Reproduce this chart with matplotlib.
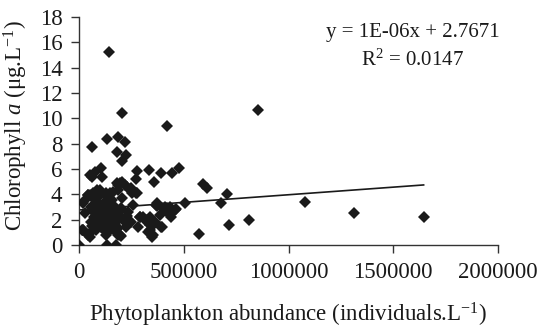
import matplotlib
matplotlib.use("Agg")
import matplotlib.pyplot as plt
import numpy as np

# ------------- Data (abundance in individuals.L-1, chl a in ug.L-1) ------------
abundance_k = [
    145, 204, 418, 856, 1079, 1314, 1645, 813, 718, 705, 676, 593, 612, 573,
    504, 463, 439, 479, 442, 60, 135, 188, 220, 180, 224, 204, 105, 76, 52,
    278, 334, 390, 60, 108, 270, 358, 204, 188, 227, 180, 275, 251, 84, 100,
    52, 44, 132, 148, 29, 21, 371, 371, 402, 418, 434, 291, 307, 323, 339,
    355, 395, 283, 339, 347, 199, 188, 52, 44, 21, 13, 0, 132, 178,
    # dense cluster
    43, 67, 99, 130, 162, 186, 218, 194, 250, 273, 258, 59, 27, 75, 106,
    138, 170, 202, 234, 91, 130, 170, 210, 59, 106, 147, 186, 226, 83, 19,
    250, 290, 314, 337, 361, 393, 329, 353, 385, 425, 457, 369, 409, 130,
    194, 51, 154, 115, 186, 76, 119, 158, 205, 100, 162, 62, 196, 229,
    70, 90, 110, 125, 140, 155, 165, 175, 120, 145, 95, 80, 130, 150,
    100, 115, 135, 160, 180, 85, 125, 140, 110, 95, 150, 65, 120, 170,
]
chlorophyll = [
    15.2, 10.4, 9.4, 10.65, 3.37, 2.50, 2.23, 1.95, 1.58, 4.0, 3.29, 4.85, 4.47, 0.87,
    3.29, 2.82, 2.2, 6.1, 5.7, 7.76, 8.34, 8.5, 8.16, 7.37, 7.1, 6.63, 6.1, 5.74, 5.55,
    5.84, 5.94, 5.71, 5.4, 5.34, 5.19, 5.0, 5.0, 4.74, 4.6, 4.92, 4.08, 4.08, 4.34, 4.34,
    3.95, 3.95, 3.81, 4.13, 3.55, 3.29, 3.29, 3.1, 2.9, 2.9, 3.02, 2.24, 2.23, 1.97, 2.23,
    1.58, 1.45, 1.45, 1.18, 0.66, 0.71, 0.79, 0.61, 0.79, 1.18, 1.18, 0.0, 0.0, 0.0,
    # dense cluster
    3.95, 4.08, 3.95, 4.08, 4.2, 4.34, 4.73, 4.87, 4.47, 4.08, 3.16, 3.02, 2.5, 2.5, 2.76,
    3.02, 2.76, 2.9, 2.63, 1.97, 2.1, 2.1, 1.97, 1.84, 1.44, 1.44, 1.32, 1.44, 1.18, 1.18,
    1.84, 2.23, 1.97, 1.58, 1.84, 1.44, 1.05, 0.79, 2.37, 2.5, 2.76, 3.16, 3.02, 0.79,
    0.79, 0.92, 2.5, 2.37, 2.5, 3.55, 3.3, 3.55, 3.7, 1.8, 1.65, 1.5, 2.3, 2.3,
    2.2, 2.6, 1.9, 2.8, 2.3, 1.8, 3.1, 2.4, 1.2, 1.1, 1.6, 2.9, 3.4, 3.0,
    3.2, 2.9, 1.7, 1.3, 1.9, 1.4, 2.0, 2.6, 2.2, 2.0, 2.1, 2.7, 3.1, 1.6,
]
abundance = np.array(abundance_k) * 1000.0
chlorophyll = np.array(chlorophyll)

# trend line as drawn in the reference
trend_slope = 1.2e-6
trend_intercept = 2.7671
trend_label = "y = 1E-06x + 2.7671"
r2_label = "R$^2$ = 0.0147"

xticks = [0, 500000, 1000000, 1500000, 2000000]
yticks = list(range(0, 19, 2))

# ------------- Style ------------
plt.rcParams['font.family'] = ['Liberation Serif', 'DejaVu Serif']
plt.rcParams['mathtext.fontset'] = 'custom'
plt.rcParams['mathtext.rm'] = 'Liberation Serif'
plt.rcParams['mathtext.it'] = 'Liberation Serif:italic'

fig = plt.figure(figsize=(5.37, 3.28), dpi=100)
ax = fig.add_axes([79 / 537, 83 / 328, 419 / 537, 228 / 328])

ax.plot(abundance, chlorophyll, 'D', color='#1a1a1a', markersize=6.0,
        markeredgewidth=0, zorder=3)

trend_x = np.array([0, abundance.max()])
ax.plot(trend_x, trend_slope * trend_x + trend_intercept, color='#1a1a1a',
        linewidth=1.2, zorder=2)

ax.set_xlim(0, 2000000)
ax.set_ylim(0, 18)
ax.set_xticks(xticks)
ax.set_xticklabels([str(t) for t in xticks])
ax.set_yticks(yticks)

for side in ['top', 'right']:
    ax.spines[side].set_visible(False)
for side in ['left', 'bottom']:
    ax.spines[side].set_linewidth(1.0)
    ax.spines[side].set_color('#333333')

ax.tick_params(direction='out', length=6, width=1.0, color='#333333',
               labelsize=16.5, labelcolor='#1a1a1a')
ax.tick_params(axis='y', pad=6)
ax.tick_params(axis='x', pad=6)

ax.set_ylabel(r"Chlorophyll $a$ ($\mathrm{\mu}$g.L$^{-1}$)", fontsize=16.5,
              color='#1a1a1a', va='center')
ax.yaxis.set_label_coords(-0.150, 0.522)
ax.set_xlabel(r"Phytoplankton abundance (individuals.L$^{-1}$)", fontsize=16.5,
              color='#1a1a1a', va='center')
ax.xaxis.set_label_coords(0.5, -0.305)

ax.text(0.797, 0.93, trend_label, transform=ax.transAxes, ha='center',
        va='center', fontsize=15, color='#1a1a1a')
ax.text(0.797, 0.811, r2_label, transform=ax.transAxes, ha='center',
        va='center', fontsize=15, color='#1a1a1a')

fig.savefig('out.png', dpi=100)
